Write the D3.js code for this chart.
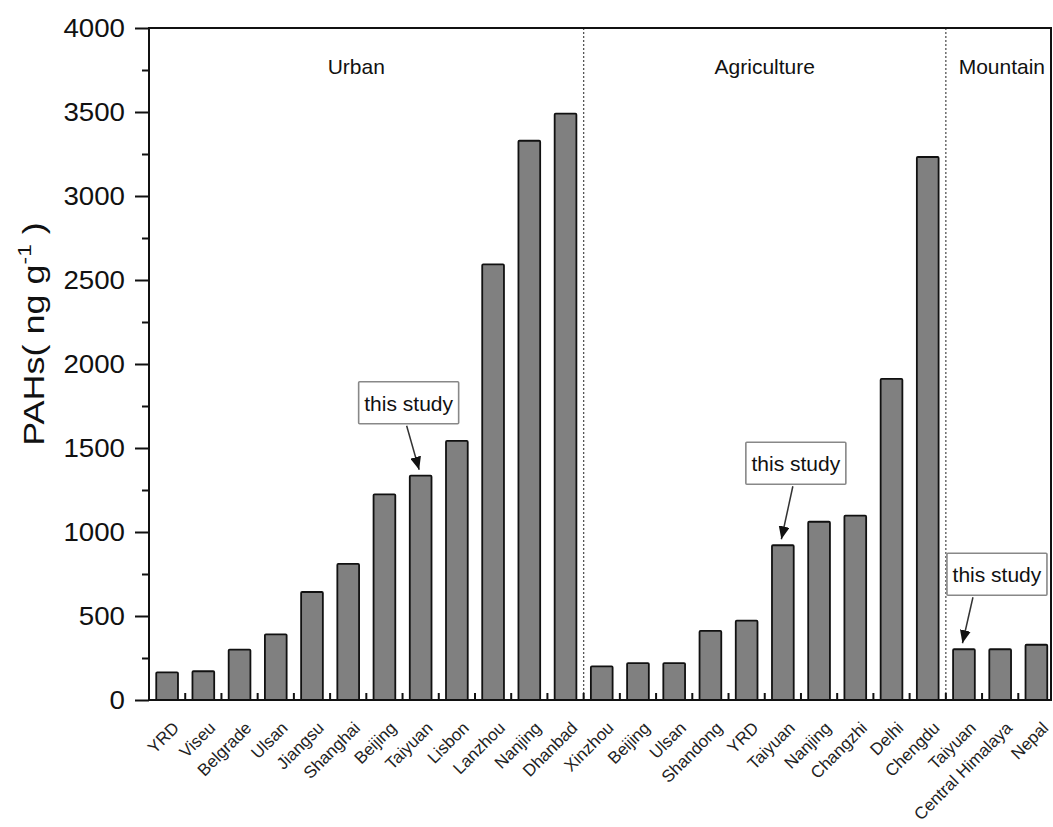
<!DOCTYPE html>
<html>
<head>
<meta charset="utf-8">
<script src="https://cdn.jsdelivr.net/npm/d3@7"></script>
<style>
  body { margin: 0; background: #fff; }
  svg { display: block; font-family: "Liberation Sans", Arial, sans-serif; }
</style>
</head>
<body>
<script>
// data
const categories = [
  "YRD", "Viseu", "Belgrade", "Ulsan", "Jiangsu", "Shanghai", "Beijing", "Taiyuan",
  "Lisbon", "Lanzhou", "Nanjing", "Dhanbad",
  "Xinzhou", "Beijing", "Ulsan", "Shandong", "YRD", "Taiyuan", "Nanjing", "Changzhi",
  "Delhi", "Chengdu",
  "Taiyuan", "Central Himalaya", "Nepal"
];
const values = [
  165, 171, 300, 391, 643, 810, 1224, 1335, 1542, 2593, 3329, 3490,
  200, 220, 220, 411, 472, 921, 1061, 1097, 1911, 3232,
  302, 302, 329
];
const groupNames = ["Urban", "Agriculture", "Mountain"];
const groupSizes = [12, 10, 3];
const yTicks = [0, 500, 1000, 1500, 2000, 2500, 3000, 3500, 4000];
const studyBars = [7, 17, 22];

const W = 1053, H = 827;
const margin = {top: 28, left: 149, bottom: 127, right: 0};
const plotH = H - margin.top - margin.bottom;

const svg = d3.select("body").append("svg")
  .attr("width", W).attr("height", H);

const x = d3.scaleBand()
  .domain(d3.range(categories.length))
  .range([margin.left, margin.left + 905.5])
  .paddingInner(0.4).paddingOuter(0.2);
const step = x.step();

const y = d3.scaleLinear()
  .domain([0, 4000])
  .range([margin.top + plotH, margin.top]);

// arrow head
svg.append("defs").append("marker")
  .attr("id", "head")
  .attr("viewBox", "0 0 10 10")
  .attr("refX", 10).attr("refY", 5)
  .attr("markerWidth", 13).attr("markerHeight", 11)
  .attr("markerUnits", "userSpaceOnUse")
  .attr("orient", "auto")
  .attr("preserveAspectRatio", "none")
  .append("path").attr("d", "M0,0 L10,5 L0,10 Z").attr("fill", "#111");

// group separators (dotted)
let acc = 0;
const bounds = [];
groupSizes.forEach((n, i) => {
  const start = acc;
  acc += n;
  bounds.push({name: groupNames[i], start: start, end: acc});
});
const edge = i => margin.left + i * step;

svg.selectAll(".sep")
  .data(bounds.slice(0, -1))
  .enter().append("line")
  .attr("x1", d => edge(d.end)).attr("x2", d => edge(d.end))
  .attr("y1", y(4000)).attr("y2", y(0))
  .attr("stroke", "#555").attr("stroke-width", 1.3)
  .attr("stroke-dasharray", "2,2");

// group labels
svg.selectAll(".grp")
  .data(bounds)
  .enter().append("text")
  .attr("x", (d, i) => i === 2 ? edge(d.start) + 56 : (edge(d.start) + edge(d.end)) / 2 - (i === 0 ? 10 : 0))
  .attr("y", 74)
  .attr("text-anchor", "middle")
  .attr("font-size", 21)
  .attr("fill", "#111")
  .text(d => d.name);

// bars
svg.selectAll(".bar")
  .data(values)
  .enter().append("rect")
  .attr("x", (d, i) => x(i))
  .attr("y", d => y(d))
  .attr("width", x.bandwidth())
  .attr("height", d => y(0) - y(d))
  .attr("rx", 1)
  .attr("fill", "#808080")
  .attr("stroke", "#111")
  .attr("stroke-width", 1.8);

// frame
svg.append("rect")
  .attr("x", margin.left).attr("y", margin.top)
  .attr("width", 1051 - margin.left).attr("height", plotH)
  .attr("fill", "none").attr("stroke", "#111").attr("stroke-width", 2);

// y axis
const yAxis = svg.append("g")
  .attr("transform", `translate(${margin.left},0)`)
  .call(d3.axisLeft(y).tickValues(yTicks).tickSize(14).tickPadding(10).tickFormat(d3.format("d")));
yAxis.select(".domain").remove();
yAxis.selectAll("line").attr("stroke", "#111").attr("stroke-width", 2);
yAxis.selectAll("text")
  .attr("font-size", 25)
  .attr("font-family", "Liberation Sans, Arial, sans-serif")
  .attr("fill", "#111")
  .attr("textLength", d => String(d).length * 15.4)
  .attr("lengthAdjust", "spacingAndGlyphs");

// minor y ticks
const yMinor = svg.append("g")
  .attr("transform", `translate(${margin.left},0)`)
  .call(d3.axisLeft(y).tickValues(d3.range(250, 4000, 500)).tickSize(7).tickFormat(""));
yMinor.select(".domain").remove();
yMinor.selectAll("line").attr("stroke", "#111").attr("stroke-width", 2);

// bottom inner ticks between bars
svg.selectAll(".xt")
  .data(d3.range(1, categories.length))
  .enter().append("line")
  .attr("x1", d => edge(d)).attr("x2", d => edge(d))
  .attr("y1", y(0)).attr("y2", y(0) - 7)
  .attr("stroke", "#111").attr("stroke-width", 2);

// x labels
svg.selectAll(".xl")
  .data(categories)
  .enter().append("text")
  .attr("transform", (d, i) => `translate(${x(i) + x.bandwidth() / 2 + 13},${y(0) + 29}) rotate(-45)`)
  .attr("text-anchor", "end")
  .attr("font-size", 17)
  .attr("fill", "#222")
  .text(d => d);

// y title
const yt = svg.append("text")
  .attr("transform", `translate(44,334) rotate(-90) scale(1.2,1)`)
  .attr("text-anchor", "middle")
  .attr("font-size", 30)
  .attr("fill", "#111");
yt.append("tspan").text("PAHs( ng g");
yt.append("tspan").attr("font-size", 19).attr("dy", -13).text("-1");
yt.append("tspan").attr("dy", 13).text(" )");

// "this study" annotations
const notes = [
  {bar: studyBars[0], boxDx: -12, lift: 52, startDx: -14},
  {bar: studyBars[1], boxDx: 13, lift: 61, startDx: 10},
  {bar: studyBars[2], boxDx: 33, lift: 54, startDx: 9}
];
notes.forEach(n => {
  const cx = x(n.bar) + x.bandwidth() / 2;
  const top = y(values[n.bar]);
  const boxBottom = top - n.lift;
  const g = svg.append("g");
  g.append("rect")
    .attr("x", cx + n.boxDx - 50).attr("y", boxBottom - 42)
    .attr("width", 100).attr("height", 42)
    .attr("fill", "#fff").attr("stroke", "#888").attr("stroke-width", 1.6)
    .attr("rx", 1);
  g.append("text")
    .attr("x", cx + n.boxDx).attr("y", boxBottom - 13)
    .attr("text-anchor", "middle")
    .attr("font-size", 21)
    .attr("fill", "#111")
    .text("this study");
  g.append("line")
    .attr("x1", cx + n.startDx).attr("y1", boxBottom + 2)
    .attr("x2", cx - 1.5).attr("y2", top - 6)
    .attr("stroke", "#333").attr("stroke-width", 1.5)
    .attr("marker-end", "url(#head)");
});
</script>
</body>
</html>
